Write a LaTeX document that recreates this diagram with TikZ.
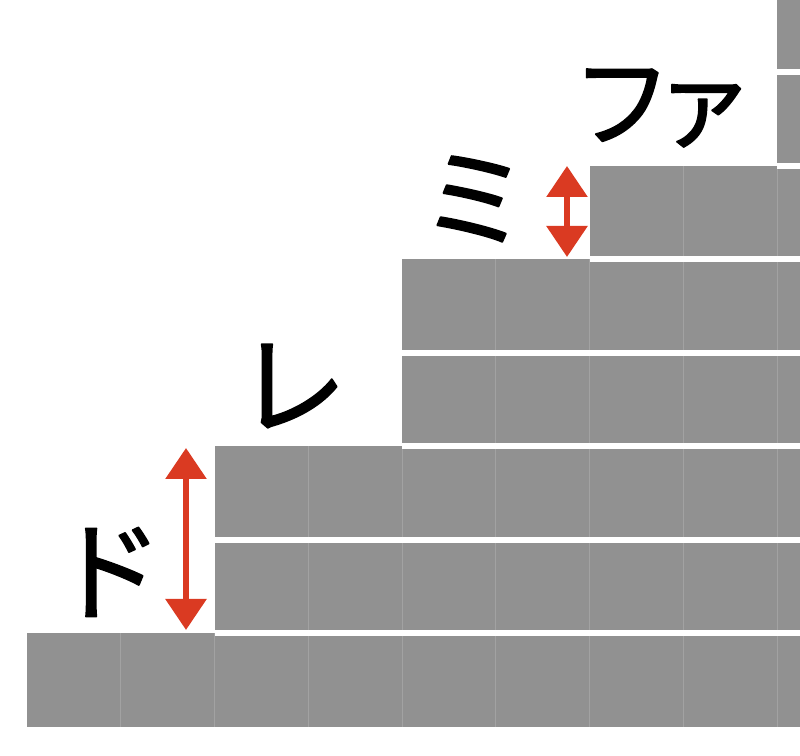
\documentclass[tikz,border=0pt]{standalone}
\usepackage{fontspec}
\newfontfamily\jpfont[FakeBold=1.4]{Noto Sans CJK JP}
\usetikzlibrary{arrows.meta}
\definecolor{blockgray}{RGB}{145,145,145}
\definecolor{seamgray}{RGB}{162,162,162}
\definecolor{chalkred}{RGB}{218,58,34}
\begin{document}
\begin{tikzpicture}[>=latex,line join=bevel,
  block/.style={fill=blockgray},
  seam/.style={seamgray,line width=0.6bp},
  gap/.style={white,line width=6bp},
  tone/.style={chalkred,line width=6bp,{Triangle[width=40bp,length=31bp]}-{Triangle[width=40bp,length=31bp]}},
  notelabel/.style={inner sep=0pt,font=\jpfont\fontsize{110bp}{110bp}\selectfont},
]
\useasboundingbox (0bp,0bp) rectangle (800bp,756bp);
%%
\fill [block] (27bp,29bp) rectangle (214.5bp,122.5bp);
  \fill [block] (214.5bp,29bp) rectangle (402bp,309.5bp);
  \fill [block] (402bp,29bp) rectangle (589.5bp,496.5bp);
  \fill [block] (589.5bp,29bp) rectangle (777bp,590bp);
  \fill [block] (777bp,29bp) rectangle (800bp,756bp);
  \draw [seam] (120.75bp,29bp) -- (120.75bp,122.5bp);
  \draw [seam] (214.5bp,29bp) -- (214.5bp,122.5bp);
  \draw [seam] (308.25bp,29bp) -- (308.25bp,309.5bp);
  \draw [seam] (402bp,29bp) -- (402bp,309.5bp);
  \draw [seam] (495.75bp,29bp) -- (495.75bp,496.5bp);
  \draw [seam] (589.5bp,29bp) -- (589.5bp,496.5bp);
  \draw [seam] (683.25bp,29bp) -- (683.25bp,590bp);
  \draw [seam] (777bp,29bp) -- (777bp,590bp);
  \draw [gap] (214.5bp,122.5bp) -- (800bp,122.5bp);
  \draw [gap] (214.5bp,216bp) -- (800bp,216bp);
  \draw [gap] (402bp,309.5bp) -- (800bp,309.5bp);
  \draw [gap] (402bp,403bp) -- (800bp,403bp);
  \draw [gap] (589.5bp,496.5bp) -- (800bp,496.5bp);
  \draw [gap] (777bp,590bp) -- (800bp,590bp);
  \draw [gap] (777bp,683.5bp) -- (800bp,683.5bp);
%
\node (label_do) at (108bp,184bp) [notelabel] {ド};
  \node (label_re) at (292bp,370bp) [notelabel] {レ};
  \node (label_mi) at (475bp,557bp) [notelabel] {ミ};
  \node (label_fa) at (663bp,648bp) [notelabel,font=\jpfont\fontsize{100bp}{100bp}\selectfont] {フ\kern-18bp ァ};
  \coordinate (do_low) at (186bp,126bp);
  \coordinate (do_high) at (186bp,308bp);
  \coordinate (mi_low) at (567bp,499bp);
  \coordinate (mi_high) at (567bp,590bp);
  \draw [tone] (do_low) -- (do_high);
  \draw [tone] (mi_low) -- (mi_high);
%
\end{tikzpicture}
\end{document}
